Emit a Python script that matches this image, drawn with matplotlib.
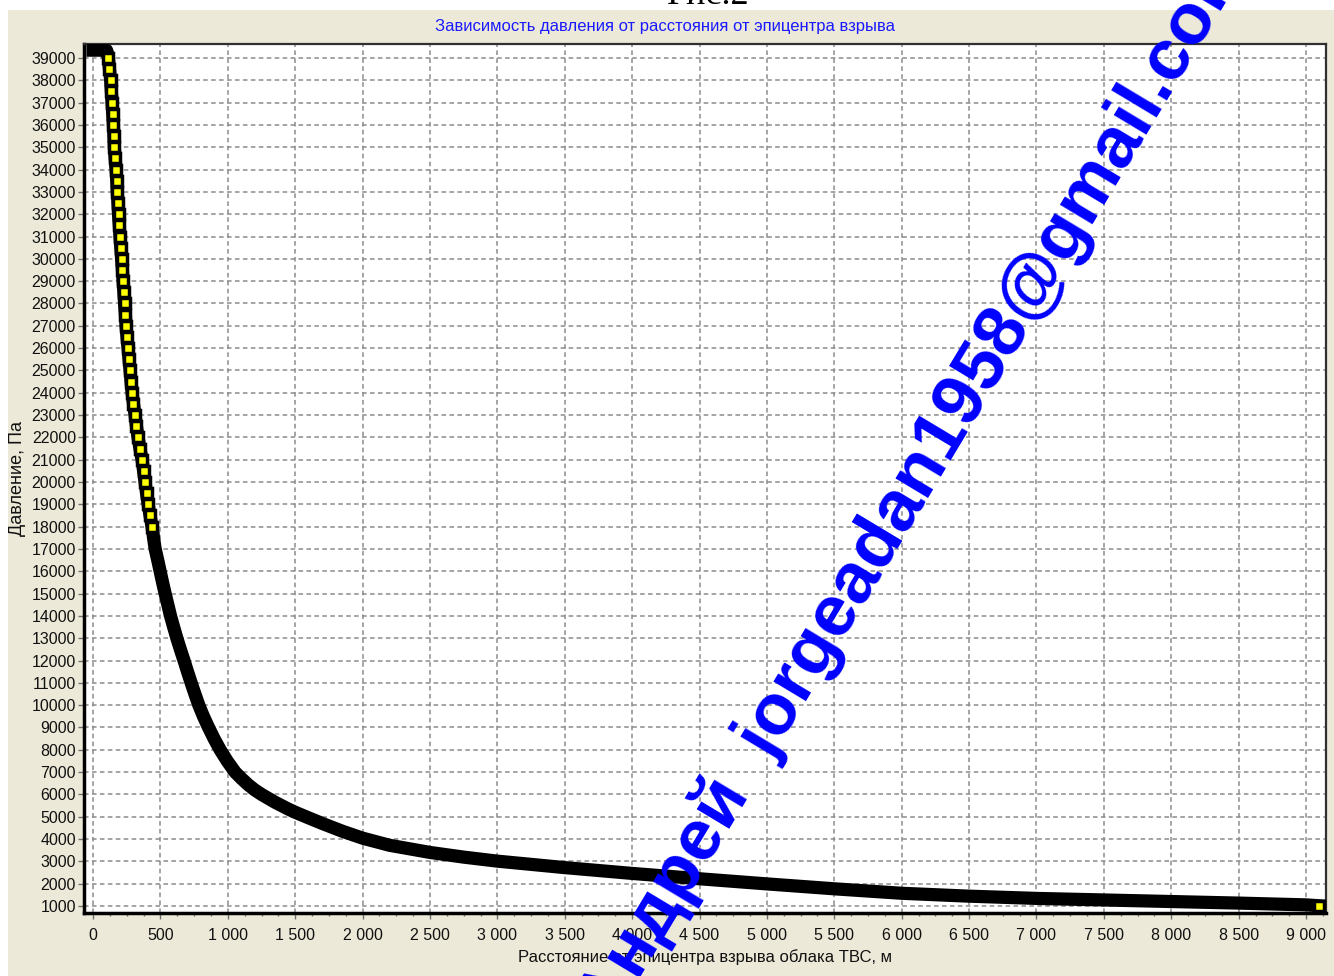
import matplotlib
matplotlib.use("Agg")
import matplotlib.pyplot as plt
from matplotlib.patches import Rectangle
from matplotlib.ticker import FixedLocator, MultipleLocator
import numpy as np

# values
distance_m = [0, 20, 40, 60, 80, 100, 111,
              114, 122, 131, 136, 141, 146, 151, 155, 158, 164, 171, 176, 180,
              185, 189, 195, 200, 206, 212, 218, 223, 229, 234, 240, 245, 252,
              260, 267, 275, 282, 290, 300, 312, 322, 334, 348, 364, 375, 386,
              397, 409, 423, 438, 449, 461, 480, 498, 516, 535, 555, 575, 598,
              622, 648, 675, 701, 728, 756, 785, 819, 857, 898, 943, 995, 1054,
              1100, 1150, 1200, 1253, 1350, 1450, 1500, 1587, 1700, 1850, 2000,
              2200, 2500, 2750, 3000, 3500, 4000, 4500, 5000, 5500, 6000, 6500,
              7000, 7500, 8000, 8500, 9000, 9097]
pressure_pa = [39350, 39350, 39350, 39350, 39350, 39350, 39150,
               39000, 38500, 38000, 37500, 37000, 36500, 36000, 35500, 35000,
               34500, 34000, 33500, 33000, 32500, 32000, 31500, 31000, 30500,
               30000, 29500, 29000, 28500, 28000, 27500, 27000, 26500, 26000,
               25500, 25000, 24500, 24000, 23500, 23000, 22500, 22000, 21500,
               21000, 20500, 20000, 19500, 19000, 18500, 18000, 17500, 17000,
               16500, 16000, 15500, 15000, 14500, 14000, 13500, 13000, 12500,
               12000, 11500, 11000, 10500, 10000, 9500, 9000, 8500, 8000, 7500,
               7000, 6720, 6440, 6200, 5990, 5650, 5340, 5200, 4980, 4700, 4350,
               4040, 3720, 3400, 3190, 3010, 2720, 2460, 2220, 1990, 1770, 1570,
               1440, 1340, 1270, 1200, 1130, 1050, 1010]

x_ticks = [0, 500, 1000, 1500, 2000, 2500, 3000, 3500, 4000, 4500,
           5000, 5500, 6000, 6500, 7000, 7500, 8000, 8500, 9000]
x_tick_labels = ["0", "500", "1 000", "1 500", "2 000", "2 500", "3 000",
                 "3 500", "4 000", "4 500", "5 000", "5 500", "6 000", "6 500",
                 "7 000", "7 500", "8 000", "8 500", "9 000"]
y_ticks = list(range(1000, 40000, 1000))

title = "Зависимость давления от расстояния от эпицентра взрыва"
x_label = "Расстояние от эпицентра взрыва облака ТВС, м"
y_label = "Давление, Па"
watermark = "Андрей  jorgeadan1958@gmail.com"

plt.rcParams['font.family'] = ['Liberation Sans', 'DejaVu Sans']

W, H = 1334, 976
fig = plt.figure(figsize=(W / 100, H / 100), dpi=100, facecolor='white')

# beige window background
fig.add_artist(Rectangle((8 / W, 0), 1, 1 - 10 / H, transform=fig.transFigure,
                         facecolor='#ECE9D8', edgecolor='none', zorder=-5))

# caption of the page above the window, mostly cut off
fig.text(708 / W, 1 - 4 / H, "Рис.2", family='Liberation Serif', fontsize=26,
         ha='center', va='baseline', color='black')

ax = fig.add_axes([84 / W, 1 - 913 / H, (1326 - 84) / W, (913 - 44) / H])
ax.set_facecolor('white')

d = np.array(distance_m)
p = np.array(pressure_pa)

# thick black band of overlapping markers
ax.plot(d, p, color='black', linewidth=9.5, solid_capstyle='projecting',
        solid_joinstyle='round', zorder=3)
# yellow markers where they still show in the steep part
show = (p <= 39000) & (p >= 18000)
ax.plot(d[show], p[show], linestyle='none', marker='s', markersize=7,
        markerfacecolor='#FFFF00', markeredgecolor='black', markeredgewidth=2.5,
        zorder=4)
ax.plot(d[-1:], p[-1:], linestyle='none', marker='s', markersize=7,
        markerfacecolor='#FFFF00', markeredgecolor='black', markeredgewidth=2.5,
        zorder=4)

ax.set_xlim(-67, 9148)
ax.set_ylim(686, 39627)

ax.xaxis.set_major_locator(FixedLocator(x_ticks))
ax.set_xticklabels(x_tick_labels)
ax.xaxis.set_minor_locator(MultipleLocator(125))
ax.set_yticks(y_ticks)
ax.set_yticklabels([str(v) for v in y_ticks])

ax.grid(True, which='major', color='#8c8c8c', linestyle=(0, (3, 2.2)),
        linewidth=1.1, zorder=1)
ax.set_axisbelow(True)

ax.tick_params(axis='y', direction='out', length=4.3, width=1,
               color='#707070', pad=1.5, labelsize=11.5, labelcolor='#111111')
ax.tick_params(axis='x', which='major', direction='out', length=4.5, width=1,
               color='#707070', pad=6, labelsize=11.5, labelcolor='#111111')
ax.tick_params(axis='x', which='minor', direction='out', length=2.5, width=1,
               color='#707070')

for side in ['left', 'bottom']:
    ax.spines[side].set_linewidth(2.5)
    ax.spines[side].set_color('black')
for side in ['top', 'right']:
    ax.spines[side].set_linewidth(1.6)
    ax.spines[side].set_color('#303030')

ax.set_xlabel(x_label, fontsize=12, color='#111111', labelpad=5)
ax.set_ylabel(y_label, fontsize=13, color='#111111', labelpad=4)

fig.text(665 / W, 1 - 26.5 / H, title, fontsize=12, color='#1a1aff',
         ha='center', va='center')

# diagonal watermark across the picture
fig.text(915 / W, 1 - 483 / H, watermark, fontsize=52, fontweight='bold',
         color='#0000FF', rotation=59, rotation_mode='anchor',
         ha='center', va='center', zorder=10)

fig.savefig('out.png', dpi=100, facecolor=fig.get_facecolor())
